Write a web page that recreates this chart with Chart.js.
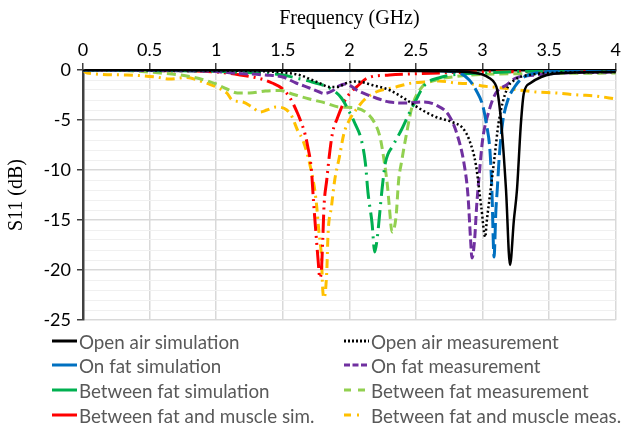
<!DOCTYPE html>
<html><head><meta charset="utf-8">
<script src="https://cdn.jsdelivr.net/npm/chart.js@4"></script>
<style>
html,body{margin:0;padding:0;background:#fff;}
#wrap{position:relative;width:623px;height:428px;overflow:hidden;}
#c{position:absolute;left:0;top:0;}
#legend{position:absolute;left:0;top:0;width:623px;height:428px;pointer-events:none;font-family:Lato,'Open Sans',sans-serif;font-size:18.8px;color:#595959;}
.item{position:absolute;height:24px;display:flex;align-items:center;white-space:nowrap;}
.item svg{display:block;margin-right:2px;}
</style></head>
<body>
<div id="wrap"><canvas id="c" width="623" height="428"></canvas><div id="legend"></div></div>
<script>
// ---- Data ----
const freqTicks = [0, 0.5, 1, 1.5, 2, 2.5, 3, 3.5, 4];
const s11Ticks = [0, -5, -10, -15, -20, -25];

const seriesLabels = [
  "Open air simulation", "Open air measurement",
  "On fat simulation", "On fat measurement",
  "Between fat simulation", "Between fat measurement",
  "Between fat and muscle sim.", "Between fat and muscle meas."
];

const openAirSimF = [0, 0.5, 1, 1.5, 2, 2.5, 2.8, 2.95, 3.0, 3.05, 3.09, 3.11, 3.14, 3.176, 3.206, 3.235, 3.258, 3.288, 3.31, 3.36, 3.44, 3.52, 3.7, 4];
const openAirSimS = [0, 0, -0.02, -0.05, -0.05, -0.1, -0.15, -0.3, -0.45, -0.8, -1.3, -2, -5.3, -12, -19.5, -15, -12, -5.3, -2.3, -1.3, -0.7, -0.4, -0.25, -0.2];

const openAirMeasF = [0, 1.0, 1.4, 1.5, 1.625, 1.72, 1.775, 1.85, 1.91, 1.98, 2.04, 2.09, 2.17, 2.3, 2.43, 2.52, 2.65, 2.77, 2.85, 2.9, 2.95, 2.99, 3.02, 3.03, 3.06, 3.09, 3.12, 3.18, 3.24, 3.35, 3.5, 4];
const openAirMeasS = [0, -0.05, -0.15, -0.25, -0.5, -1.0, -1.3, -1.7, -1.7, -1.3, -1.15, -1.2, -1.5, -2.0, -3.0, -3.8, -4.7, -5.2, -5.8, -7, -9.5, -13.7, -16.7, -15.3, -12, -8.7, -5.3, -2, -1.0, -0.5, -0.3, -0.2];

const onFatSimF = [0, 1, 2, 2.5, 2.8, 2.9, 2.95, 3.0, 3.03, 3.055, 3.07, 3.086, 3.1, 3.11, 3.125, 3.15, 3.19, 3.24, 3.3, 3.4, 3.6, 4];
const onFatSimS = [0, 0, -0.02, -0.05, -0.2, -1.0, -2.0, -3.5, -5.5, -8, -12, -18.7, -14, -12, -8.7, -5.3, -3, -1.7, -0.8, -0.3, -0.1, -0.05];

const onFatMeasF = [0, 0.5, 1.0, 1.12, 1.37, 1.5, 1.6, 1.7, 1.775, 1.81, 1.87, 1.92, 1.97, 2.07, 2.2, 2.3, 2.43, 2.55, 2.65, 2.75, 2.81, 2.86, 2.89, 2.91, 2.92, 2.94, 2.955, 2.976, 3.0, 3.05, 3.1, 3.18, 3.25, 3.4, 3.6, 4];
const onFatMeasS = [0, -0.05, -0.15, -0.3, -0.5, -0.7, -1.3, -1.8, -2.2, -2.35, -2.1, -1.6, -1.4, -2.1, -2.8, -3.2, -3.3, -3.2, -3.5, -4.6, -6.5, -9.3, -12.5, -17, -18.8, -17, -13.7, -10.3, -7, -4, -2.3, -1.5, -0.8, -0.5, -0.3, -0.2];

const betweenFatSimF = [0, 0.5, 1.0, 1.3, 1.5, 1.6, 1.72, 1.85, 1.94, 2.0, 2.04, 2.09, 2.12, 2.14, 2.17, 2.19, 2.21, 2.225, 2.247, 2.27, 2.33, 2.39, 2.45, 2.5, 2.54, 2.58, 2.67, 2.77, 3.0, 3.5, 4];
const betweenFatSimS = [0, -0.05, -0.15, -0.3, -0.5, -0.8, -1.2, -1.8, -2.8, -4.2, -5.3, -7, -9.3, -12.3, -15.3, -18.2, -16.7, -14.7, -11.7, -9.3, -7.5, -6, -4.3, -3, -2, -1.3, -0.8, -0.5, -0.3, -0.1, -0.1];

const betweenFatMeasF = [0, 0.3, 0.58, 0.82, 1.0, 1.08, 1.16, 1.25, 1.37, 1.48, 1.57, 1.7, 1.82, 1.92, 2.05, 2.13, 2.19, 2.23, 2.26, 2.285, 2.3, 2.32, 2.35, 2.37, 2.39, 2.43, 2.47, 2.545, 2.65, 2.77, 2.9, 3.5, 4];
const betweenFatMeasS = [0, -0.05, -0.3, -0.7, -1.4, -1.9, -2.3, -2.3, -2.1, -2.05, -2.4, -2.9, -3.3, -3.7, -3.8, -4.3, -5.3, -6.7, -9, -11.5, -13.7, -16.2, -14.7, -11, -9.3, -6.3, -3.7, -1.7, -1.0, -0.7, -0.5, -0.35, -0.3];

const fatMuscleSimF = [0, 0.5, 1.0, 1.18, 1.34, 1.42, 1.49, 1.55, 1.61, 1.64, 1.665, 1.685, 1.715, 1.73, 1.75, 1.765, 1.778, 1.79, 1.8, 1.81, 1.83, 1.85, 1.873, 1.91, 1.96, 2.0, 2.07, 2.135, 2.3, 2.46, 3.0, 4];
const fatMuscleSimS = [0, -0.05, -0.2, -0.5, -0.9, -1.3, -1.8, -2.7, -4.3, -5.3, -6.3, -7.5, -10, -13, -16.5, -19, -20.8, -20, -17, -13.5, -11, -8.5, -6.3, -4.8, -3.2, -2.4, -1.5, -0.8, -0.5, -0.4, -0.2, -0.15];

const fatMuscleMeasF = [0, 0.03, 0.33, 0.55, 0.65, 0.78, 0.88, 1.0, 1.08, 1.12, 1.2, 1.27, 1.33, 1.38, 1.45, 1.53, 1.57, 1.61, 1.65, 1.69, 1.72, 1.74, 1.755, 1.77, 1.79, 1.8, 1.81, 1.83, 1.84, 1.865, 1.89, 1.925, 1.96, 2.0, 2.06, 2.11, 2.2, 2.35, 2.47, 2.58, 2.67, 2.8, 2.92, 3.0, 3.15, 3.27, 3.4, 3.55, 3.72, 3.85, 4.0];
const fatMuscleMeasS = [0, -0.3, -0.5, -0.7, -0.9, -0.75, -1.1, -1.7, -2.3, -3.0, -3.2, -3.7, -4.2, -4.0, -3.7, -4.0, -4.7, -6, -7, -8.7, -10.5, -12, -13.7, -16, -18.7, -22, -22.8, -20.2, -16.3, -13.7, -11, -8.7, -6.3, -5.0, -3.8, -3.0, -2.2, -1.7, -1.3, -1.2, -1.1, -1.3, -1.4, -1.6, -1.8, -2.0, -2.2, -2.3, -2.5, -2.6, -2.9];

// ---- Styles ----
const styles = [
  {color: '#000000', dash: [], width: 2.5, legendDash: null},
  {color: '#000000', dash: [2, 2.5], width: 2.5, legendDash: '2 2'},
  {color: '#0070C0', dash: [16, 5], width: 3, legendDash: null},
  {color: '#7030A0', dash: [9, 4], width: 3, legendDash: '6 2.5'},
  {color: '#00B050', dash: [18, 6, 2, 6], width: 3, legendDash: null},
  {color: '#92D050', dash: [9, 5], width: 3, legendDash: '7 7'},
  {color: '#FF0000', dash: [18, 5, 2, 5, 2, 5], width: 3, legendDash: null},
  {color: '#FFC000', dash: [9, 5, 2, 5], width: 3, legendDash: '7 6 2 20'}
];
const seriesX = [openAirSimF, openAirMeasF, onFatSimF, onFatMeasF, betweenFatSimF, betweenFatMeasF, fatMuscleSimF, fatMuscleMeasF];
const seriesY = [openAirSimS, openAirMeasS, onFatSimS, onFatMeasS, betweenFatSimS, betweenFatMeasS, fatMuscleSimS, fatMuscleMeasS];

const datasets = seriesLabels.map((lab, i) => ({
  label: lab,
  data: seriesX[i].map((x, j) => ({x: x, y: seriesY[i][j]})),
  borderColor: styles[i].color,
  borderWidth: styles[i].width,
  borderDash: styles[i].dash,
  pointRadius: 0,
  fill: false,
  cubicInterpolationMode: 'monotone',
  borderJoinStyle: 'round'
}));

const tickFont = {family: 'Lato, "Open Sans", sans-serif', size: 18};
const titleFont = {family: '"Liberation Serif", "DejaVu Serif", serif', size: 20};

new Chart(document.getElementById('c'), {
  type: 'line',
  data: {datasets: datasets},
  options: {
    responsive: false,
    animation: false,
    devicePixelRatio: 1,
    layout: {padding: {left: 0, right: 6, top: 0, bottom: 108}},
    plugins: {legend: {display: false}, tooltip: {enabled: false}},
    scales: {
      x: {
        type: 'linear', position: 'top', min: 0, max: 4,
        afterBuildTicks: s => { s.ticks = freqTicks.map(v => ({value: v})); },
        ticks: {font: tickFont, color: '#000', padding: 2, maxRotation: 0, autoSkip: false,
                callback: v => String(v)},
        grid: {color: '#d9d9d9', lineWidth: 1.5, tickLength: 7, tickColor: '#404040', tickWidth: 1.5},
        border: {color: '#000', width: 2.5},
        title: {display: true, text: 'Frequency (GHz)', font: titleFont, color: '#000', padding: {top: 7, bottom: 0}},
        afterFit: s => { s.height = 70; }
      },
      y: {
        type: 'linear', min: -25, max: 0,
        afterBuildTicks: s => { const t = []; for (let v = 0; v >= -25; v--) t.push({value: v}); s.ticks = t; },
        ticks: {font: tickFont, color: '#000', padding: 6, autoSkip: false,
                callback: v => s11Ticks.includes(v) ? String(v) : ''},
        grid: {
          color: c => (c.tick && s11Ticks.includes(c.tick.value)) ? '#d9d9d9' : '#f0f0f0',
          lineWidth: c => (c.tick && s11Ticks.includes(c.tick.value)) ? 1.5 : 1,
          tickLength: 6,
          tickColor: c => (c.tick && s11Ticks.includes(c.tick.value)) ? '#404040' : 'rgba(0,0,0,0)',
          tickWidth: 1.5
        },
        border: {color: '#404040', width: 2.5},
        title: {display: true, text: 'S11 (dB)', font: titleFont, color: '#000', padding: {top: 5, bottom: 0}},
        afterFit: s => { s.width = 83; }
      }
    }
  }
});

// ---- HTML legend (2 columns) ----
const legend = document.getElementById('legend');
const colX = [52, 344];
const rowY = [341, 365, 390, 415];
seriesLabels.forEach((lab, i) => {
  const col = i % 2, row = Math.floor(i / 2);
  const st = styles[i];
  const d = document.createElement('div');
  d.className = 'item';
  d.style.left = colX[col] + 'px';
  d.style.top = (rowY[row] - 12) + 'px';
  const w = 25;
  const dashAttr = st.legendDash ? ` stroke-dasharray="${st.legendDash}"` : '';
  d.innerHTML = `<svg width="${w}" height="6"><line x1="0" y1="3" x2="${w}" y2="3" stroke="${st.color}" stroke-width="3"${dashAttr}/></svg><span>${lab}</span>`;
  legend.appendChild(d);
});
</script>
</body></html>
